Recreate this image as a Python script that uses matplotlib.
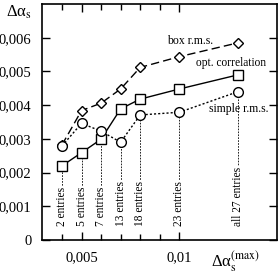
import matplotlib
matplotlib.use("Agg")
import matplotlib.pyplot as plt
import numpy as np

plt.rcParams["font.family"] = "Liberation Serif"
plt.rcParams["mathtext.fontset"] = "stix"

# max. allowed delta alpha_s for the selection
x = [0.004, 0.005, 0.006, 0.007, 0.008, 0.010, 0.013]
box_rms = [0.00282, 0.00384, 0.00406, 0.00448, 0.00512, 0.00544, 0.00585]
opt_corr = [0.00220, 0.00259, 0.00299, 0.00389, 0.00418, 0.00448, 0.00490]
simple_rms = [0.00279, 0.00346, 0.00323, 0.00290, 0.00371, 0.00379, 0.00440]
entries = ["2 entries", "5 entries", "7 entries", "13 entries",
           "18 entries", "23 entries", "all 27 entries"]

fig = plt.figure(figsize=(2.79, 2.73), dpi=100)
ax = fig.add_axes([0.152, 0.121, 0.841, 0.864])

lowest = np.min([box_rms, opt_corr, simple_rms], axis=0)
for xi, lo, lab in zip(x, lowest, entries):
    ax.plot([xi, xi], [0.0004, lo], color="black", lw=0.6, ls=(0, (2, 1.5)), zorder=1)
    ax.text(xi, 0.0004, lab, rotation=90, ha="center", va="bottom", fontsize=8.3,
            bbox=dict(facecolor="white", edgecolor="none", pad=1.0), zorder=2)

ax.plot(x, box_rms, color="black", lw=1.0, ls=(0, (6, 3)), marker="D", ms=5,
        mfc="white", mec="black", mew=1.0, zorder=3)
ax.plot(x, opt_corr, color="black", lw=1.0, marker="s", ms=7,
        mfc="white", mec="black", mew=1.0, zorder=3)
ax.plot(x, simple_rms, color="black", lw=1.0, ls=(0, (1.5, 1.5)), marker="o", ms=7,
        mfc="white", mec="black", mew=1.0, zorder=3)

ax.text(0.01056, 0.0059, "box r.m.s.", fontsize=8.5, ha="center", va="center")
ax.text(0.01267, 0.00525, "opt. correlation", fontsize=8.3, ha="center", va="center")
ax.text(0.01306, 0.00389, "simple r.m.s.", fontsize=8.5, ha="center", va="center")

ax.set_xlim(0.003, 0.015)
ax.set_ylim(0, 0.007)
ax.set_xticks([0.005, 0.01])
ax.set_xticklabels(["0,005", "0,01"])
ax.set_xticks([0.004, 0.006, 0.007, 0.008, 0.009], minor=True)
ax.set_yticks([0, 0.001, 0.002, 0.003, 0.004, 0.005, 0.006])
ax.set_yticklabels(["0", "0,001", "0,002", "0,003", "0,004", "0,005", "0,006"])
ax.tick_params(which="both", direction="in", top=True, right=True, labelsize=10.5)
ax.tick_params(which="major", length=6, width=1.0, pad=8)
ax.tick_params(which="minor", length=4, width=1.0)
for s in ax.spines.values():
    s.set_linewidth(1.2)

fig.text(0.02, 0.955, "Δα$_\\mathrm{s}$", fontsize=12, ha="left", va="center")
fig.text(0.845, 0.04, "Δα$_\\mathrm{s}^{(\\mathrm{max})}$", fontsize=12,
         ha="center", va="center")

fig.savefig("out.png", dpi=100)
